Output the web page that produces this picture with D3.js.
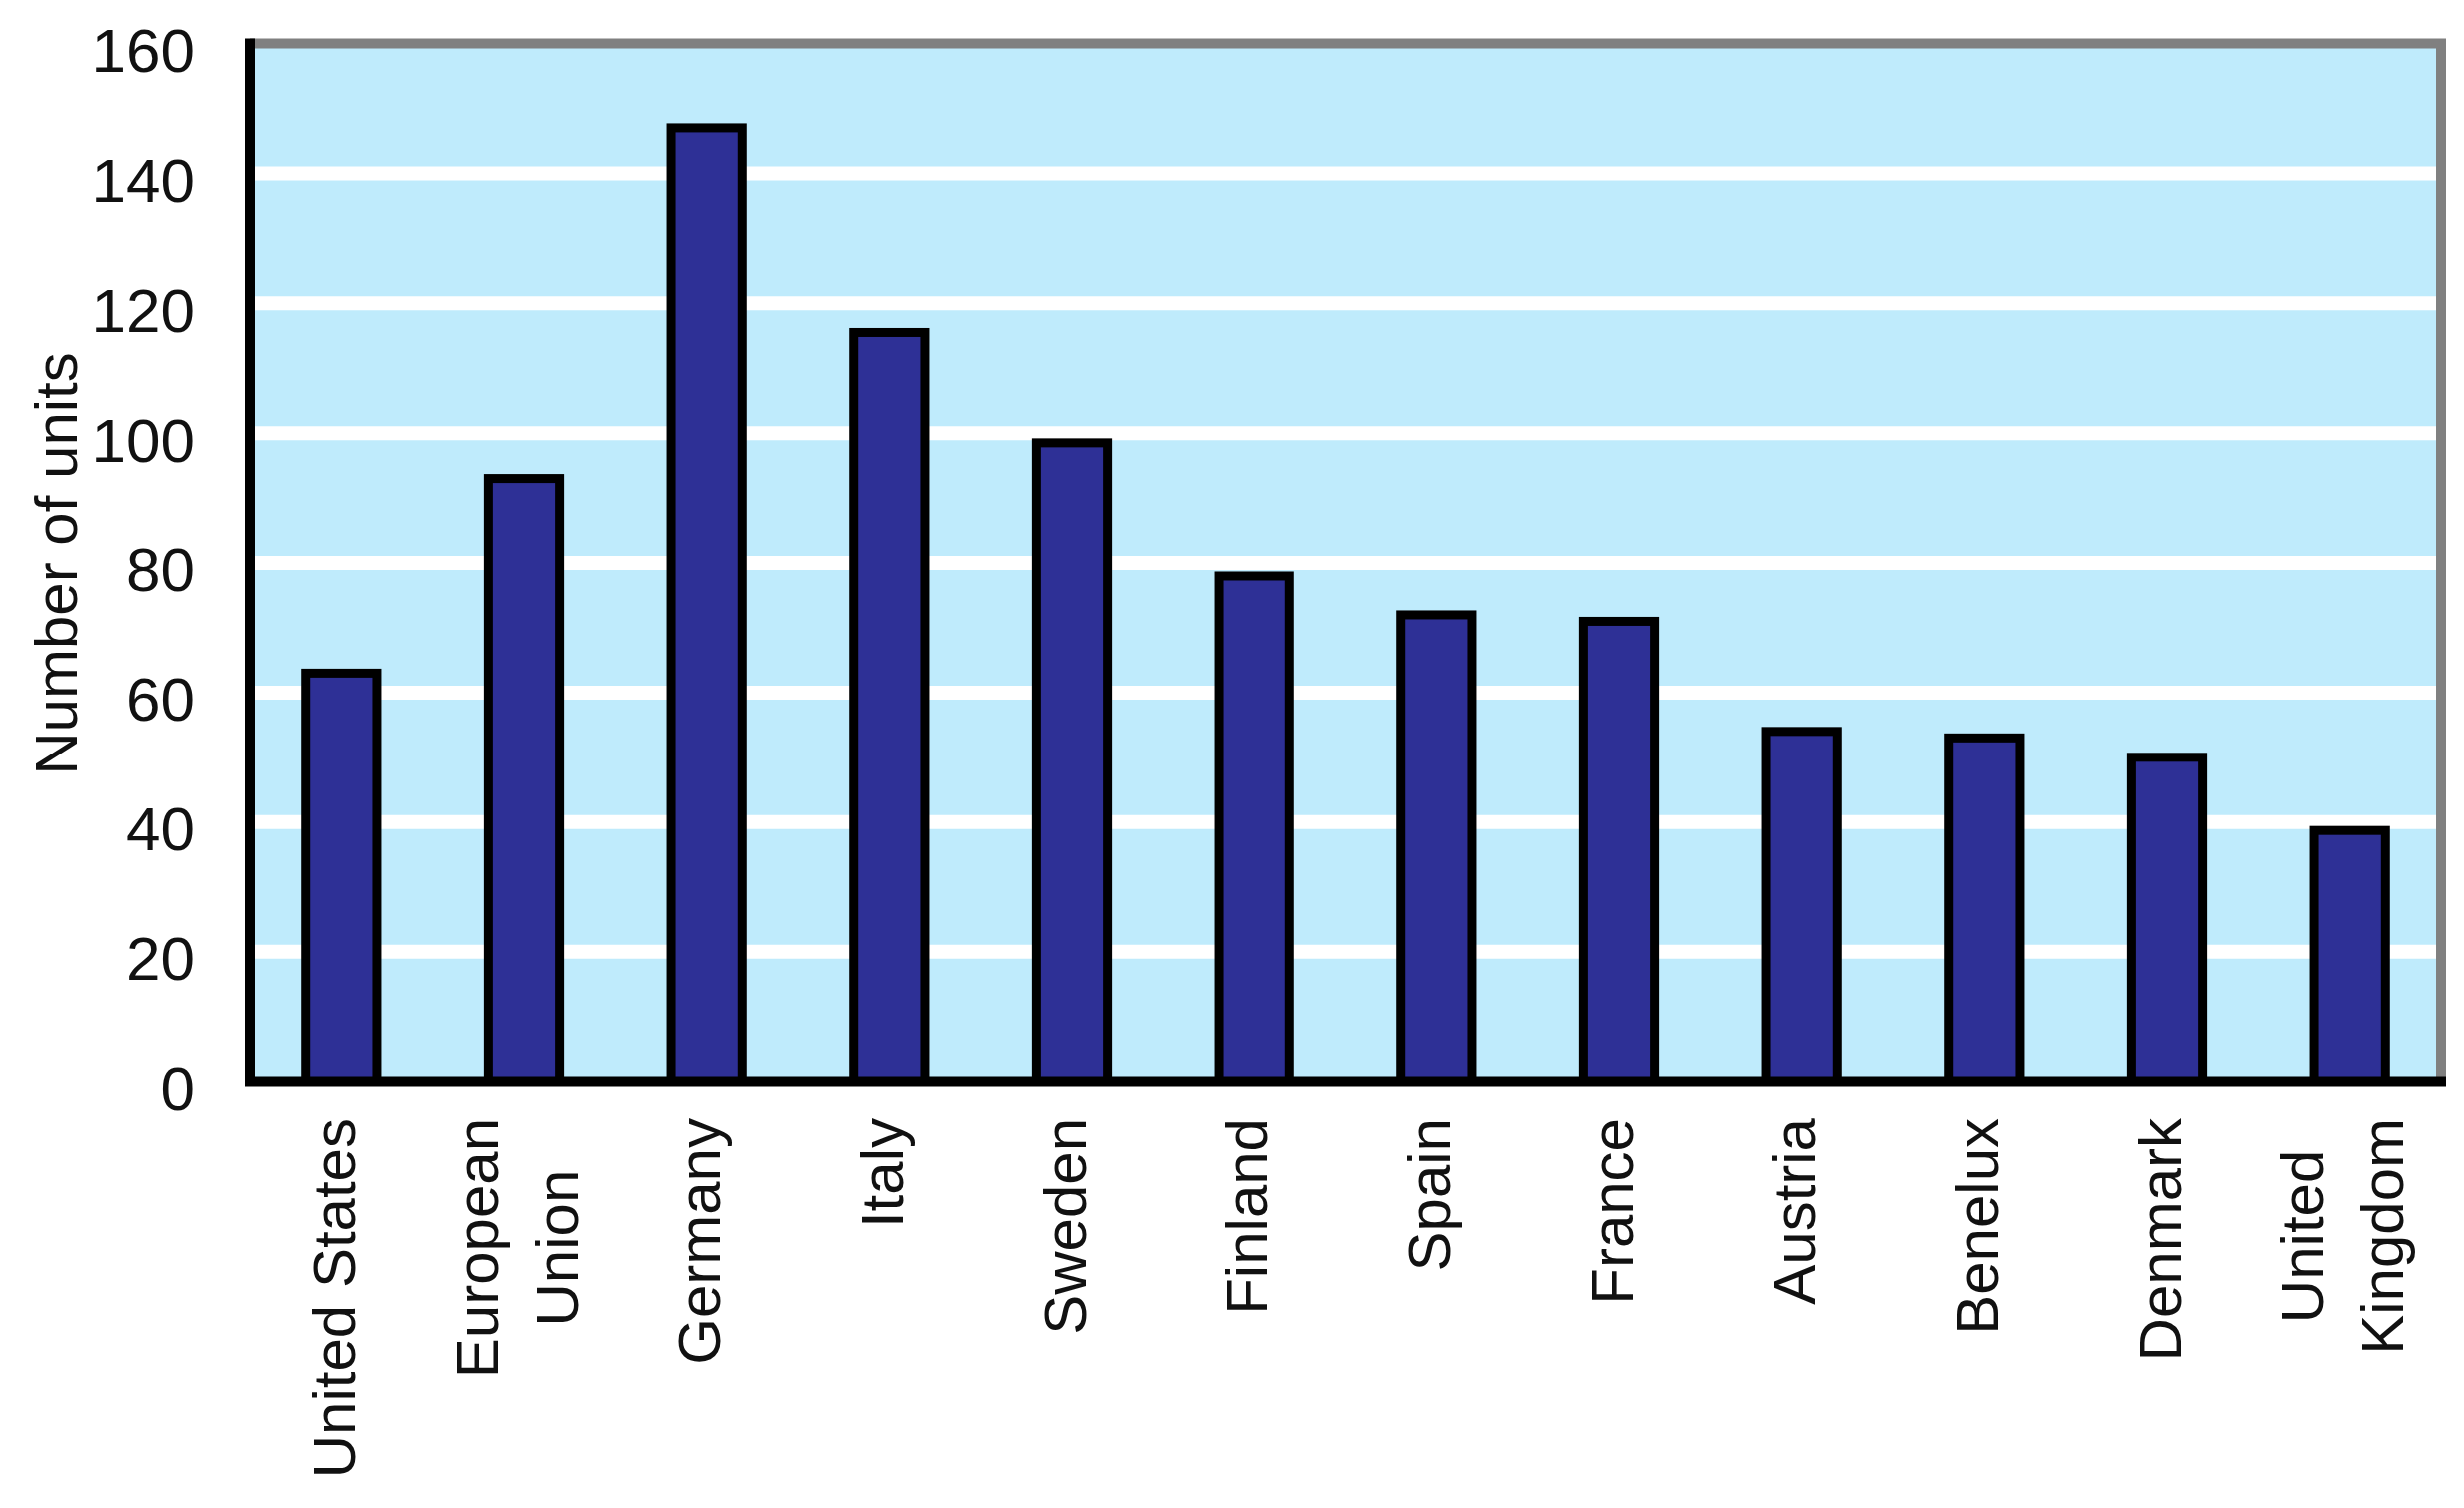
<!DOCTYPE html>
<html lang="en">
<head>
    <meta charset="UTF-8">
    <title>Number of units by country</title>
    <style>
        body { margin: 0; background: #fff; }
        text { font-family: "Liberation Sans", Arial, sans-serif; fill: #111; }
    </style>
</head>
<body>
    <script src="https://d3js.org/d3.v7.min.js"></script>
    <script>
        // data
        let countries = ["United States", "European Union", "Germany", "Italy", "Sweden", "Finland",
                         "Spain", "France", "Austria", "Benelux", "Denmark", "United Kingdom"];
        let labelLines = [["United States"], ["European", "Union"], ["Germany"], ["Italy"], ["Sweden"], ["Finland"],
                          ["Spain"], ["France"], ["Austria"], ["Benelux"], ["Denmark"], ["United", "Kingdom"]];
        let units = [63, 93, 147, 115.5, 98.5, 78, 72, 71, 54, 53, 50, 38.7];
        let yTicks = [0, 20, 40, 60, 80, 100, 120, 140, 160];
        let yTitle = "Number of units";

        let width = 2465, height = 1509;
        let plotLeft = 250, plotRight = 2442, plotTop = 43.5, plotBottom = 1082.5;

        let svg = d3.select("body").append("svg")
            .attr("width", width)
            .attr("height", height);

        let x = d3.scaleBand()
            .domain(countries)
            .range([plotLeft, plotRight])
            .paddingInner(0.61)
            .paddingOuter(0.305);

        let y = d3.scaleLinear()
            .domain([0, 160])
            .range([plotBottom, plotTop]);

        // plot background
        svg.append("rect")
            .attr("x", plotLeft).attr("y", plotTop)
            .attr("width", plotRight - plotLeft).attr("height", plotBottom - plotTop)
            .attr("fill", "#bfebfc");

        // white gridlines
        svg.selectAll("line.grid").data(yTicks.filter(function(d){ return d > 0 && d < 160; }))
            .enter().append("line")
            .attr("class", "grid")
            .attr("x1", plotLeft).attr("x2", plotRight)
            .attr("y1", function(d){ return y(d); })
            .attr("y2", function(d){ return y(d); })
            .attr("stroke", "#fff")
            .attr("stroke-width", 14);

        // bars
        svg.selectAll("rect.bar").data(units)
            .enter().append("rect")
            .attr("class", "bar")
            .attr("x", function(d, i){ return x(countries[i]); })
            .attr("y", function(d){ return y(d); })
            .attr("width", x.bandwidth())
            .attr("height", function(d){ return y(0) - y(d); })
            .attr("fill", "#2e3096")
            .attr("stroke", "#000")
            .attr("stroke-width", 9);

        // frame: grey top/right, black left/bottom
        svg.append("path")
            .attr("d", "M" + plotLeft + "," + plotTop + "H" + plotRight + "V" + plotBottom)
            .attr("fill", "none").attr("stroke", "#808080").attr("stroke-width", 10);
        svg.append("path")
            .attr("d", "M" + plotLeft + "," + (plotTop - 5) + "V" + plotBottom + "H" + (plotRight + 5))
            .attr("fill", "none").attr("stroke", "#000").attr("stroke-width", 10);

        // y axis labels
        let yAxis = svg.append("g")
            .attr("transform", "translate(" + plotLeft + ",0)")
            .call(d3.axisLeft(y).tickValues(yTicks).tickSize(0).tickPadding(55));
        yAxis.select(".domain").remove();
        yAxis.selectAll("text")
            .attr("dy", "0.45em")
            .style("font-size", "62px")
            .style("font-family", "'Liberation Sans', Arial, sans-serif")
            .attr("fill", "#111");

        svg.append("text")
            .attr("transform", "translate(77,564) rotate(-90)")
            .attr("text-anchor", "middle")
            .style("font-size", "60px")
            .text(yTitle);

        // category labels, rotated, top aligned, lines centred in their block
        let labelTop = 1119, lineGap = 80, capH = 43;
        let labels = svg.selectAll("g.xlabel").data(labelLines)
            .enter().append("g")
            .attr("class", "xlabel");

        labels.each(function(lines, i){
            let g = d3.select(this);
            let cx = x(countries[i]) + x.bandwidth() / 2 - 8;
            let texts = lines.map(function(line, j){
                let bx = cx + capH / 2 + (j - (lines.length - 1) / 2) * lineGap;
                return g.append("text")
                    .attr("transform", "translate(" + bx + "," + labelTop + ") rotate(-90)")
                    .style("font-size", "60px")
                    .text(line);
            });
            if (lines.length == 1) {
                texts[0].attr("text-anchor", "end");
            } else {
                let maxLen = d3.max(texts, function(t){ return t.node().getComputedTextLength(); });
                texts.forEach(function(t, j){
                    let bx = cx + capH / 2 + (j - (lines.length - 1) / 2) * lineGap;
                    t.attr("text-anchor", "middle")
                     .attr("transform", "translate(" + bx + "," + (labelTop + maxLen / 2) + ") rotate(-90)");
                });
            }
        });
    </script>
</body>
</html>
